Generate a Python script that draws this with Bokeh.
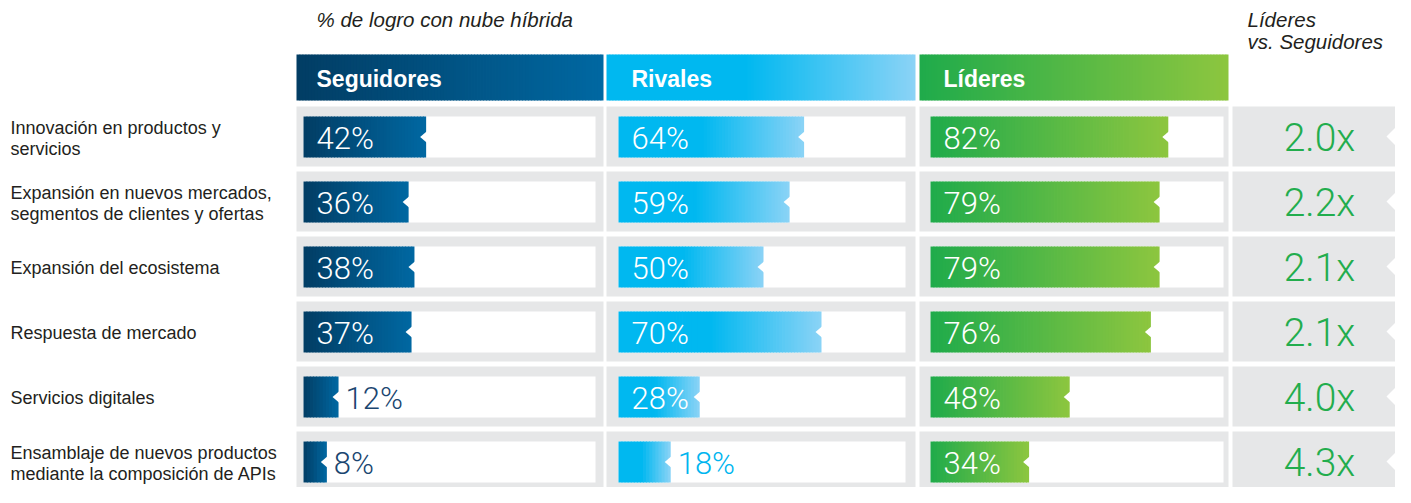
import numpy as np
from bokeh.plotting import figure
from bokeh.models import Range1d, ColumnDataSource
from bokeh.embed import file_html
from bokeh.resources import INLINE
from bokeh.core.properties import value

# ---------------- data ----------------
categories = [
    "Innovación en productos y\nservicios",
    "Expansión en nuevos mercados,\nsegmentos de clientes y ofertas",
    "Expansión del ecosistema",
    "Respuesta de mercado",
    "Servicios digitales",
    "Ensamblaje de nuevos productos\nmediante la composición de APIs",
]
seguidores = [42, 36, 38, 37, 12, 8]
rivales = [64, 59, 50, 70, 28, 18]
lideres = [82, 79, 79, 76, 48, 34]
ratio_labels = ["2.0x", "2.2x", "2.1x", "2.1x", "4.0x", "4.3x"]
series_names = ["Seguidores", "Rivales", "Líderes"]
title_text = "% de logro con nube híbrida"
ratio_title = ["Líderes", "vs. Seguidores"]

# ---------------- layout / style ----------------
W, H = 1395, 487
SANS = "Liberation Sans"
NUM = "Roboto Light"
GRAY = "#e6e7e8"
TXT = "#231f20"
GREEN_TXT = "#22ad4d"

col_left = [296, 606, 919]
col_right = [603, 915, 1228]
inner_left = [303, 618, 930]
inner_right = [595, 905, 1223]
px_per_pct = [2.92, 2.90, 2.90]
grad_stops = [
    [(0.0, "#023d64"), (1.0, "#0068a2")],
    [(0.0, "#00b8f0"), (0.45, "#00b8f0"), (1.0, "#8bd3f6")],
    [(0.0, "#1fab4b"), (1.0, "#8dc63f")],
]
outside_color = ["#1a4670", "#00b5ef", "#1fab4b"]
INSIDE_MIN = 25  # values below this get the label outside the bar

ratio_left, ratio_right, ratio_text_x = 1232, 1395, 1319
row_top0, row_pitch, row_h = 106, 65, 60
inner_off, inner_h = 10, 41
head_top, head_bot = 54, 100


def hex2rgb(h):
    h = h.lstrip("#")
    return np.array([int(h[i:i + 2], 16) for i in (0, 2, 4)], dtype=float)


def grad_color(stops, t):
    for (t0, c0), (t1, c1) in zip(stops[:-1], stops[1:]):
        if t <= t1:
            f = 0 if t1 == t0 else (t - t0) / (t1 - t0)
            c = hex2rgb(c0) * (1 - f) + hex2rgb(c1) * f
            return "#%02x%02x%02x" % tuple(int(round(v)) for v in c)
    return stops[-1][1]


p = figure(width=W, height=H, output_backend="svg", toolbar_location=None,
           x_range=Range1d(0, W), y_range=Range1d(H, 0),
           min_border=0, background_fill_color="white", border_fill_color="white")
p.axis.visible = False
p.grid.visible = False
p.outline_line_color = None

grad = dict(left=[], right=[], top=[], bottom=[], color=[])


def add_gradient(x0, x1, yt, yb, stops):
    n = max(4, int((x1 - x0) / 3))
    edges = np.linspace(x0, x1, n + 1)
    for i in range(n):
        t = (i + 0.5) / n
        grad["left"].append(edges[i])
        grad["right"].append(min(edges[i + 1] + 0.8, x1))
        grad["top"].append(yt)
        grad["bottom"].append(yb)
        grad["color"].append(grad_color(stops, t))


# panels
panels = dict(left=[], right=[], top=[], bottom=[], color=[])
rows = len(categories)
row_tops = [row_top0 + i * row_pitch for i in range(rows)]
for i in range(rows):
    rt = row_tops[i]
    for c in range(3):
        panels["left"].append(col_left[c]); panels["right"].append(col_right[c])
        panels["top"].append(rt); panels["bottom"].append(rt + row_h); panels["color"].append(GRAY)
        panels["left"].append(inner_left[c]); panels["right"].append(inner_right[c])
        panels["top"].append(rt + inner_off); panels["bottom"].append(rt + inner_off + inner_h)
        panels["color"].append("white")
    panels["left"].append(ratio_left); panels["right"].append(ratio_right)
    panels["top"].append(rt); panels["bottom"].append(rt + row_h); panels["color"].append(GRAY)

p.quad(left="left", right="right", top="top", bottom="bottom", fill_color="color",
       line_color=None, source=ColumnDataSource(panels))

# headers
for c in range(3):
    add_gradient(col_left[c], col_right[c], head_top, head_bot, grad_stops[c])

# bars
series = [seguidores, rivales, lideres]
bar_ends = [[], [], []]
for c in range(3):
    for i, v in enumerate(series[c]):
        rt = row_tops[i] + inner_off
        x1 = inner_left[c] + v * px_per_pct[c]
        bar_ends[c].append(x1)
        add_gradient(inner_left[c], x1, rt, rt + inner_h, grad_stops[c])

p.quad(left="left", right="right", top="top", bottom="bottom", fill_color="color",
       line_color=None, source=ColumnDataSource(grad))

# notches
nx, ny = [], []
for c in range(3):
    for i in range(rows):
        cy = row_tops[i] + inner_off + inner_h / 2
        e = bar_ends[c][i]
        nx.append([e + 1, e - 6, e + 1]); ny.append([cy - 6, cy, cy + 6])
for i in range(rows):
    cy = row_tops[i] + row_h / 2
    nx.append([ratio_right + 2, ratio_right - 9, ratio_right + 2]); ny.append([cy - 11, cy, cy + 11])
p.patches(nx, ny, fill_color="white", line_color=None)

# header labels
p.text(x=[inner_left[c] + 13 for c in range(3)], y=[(head_top + head_bot) / 2 + 1] * 3,
       text=series_names, text_font=value(SANS), text_font_style="bold",
       text_font_size=value("23px"), text_color="white", text_baseline="middle")

# percent labels
lx, ly, lt, lc = [], [], [], []
for c in range(3):
    for i, v in enumerate(series[c]):
        cy = row_tops[i] + inner_off + inner_h / 2 + 1
        if v >= INSIDE_MIN:
            lx.append(inner_left[c] + 13); lc.append("white")
        else:
            lx.append(bar_ends[c][i] + 7); lc.append(outside_color[c])
        ly.append(cy); lt.append(f"{v}%")
p.text(x=lx, y=ly, text=lt, text_color=lc, text_font=value(NUM),
       text_font_size=value("31px"), text_baseline="middle")

# ratio labels
p.text(x=[ratio_text_x] * rows, y=[rt + row_h / 2 + 1 for rt in row_tops],
       text=ratio_labels, text_color=GREEN_TXT, text_font=value(NUM),
       text_font_size=value("39px"), text_align="center", text_baseline="middle")

# category labels
cx, cyy, ct = [], [], []
for i, cat in enumerate(categories):
    lines = cat.split("\n")
    n = len(lines)
    mid = row_tops[i] + row_h / 2 + (2 if n > 1 else 1)
    for k, ln in enumerate(lines):
        cx.append(10); cyy.append(mid + (k - (n - 1) / 2) * 21); ct.append(ln)
p.text(x=cx, y=cyy, text=ct, text_color=TXT, text_font=value(SANS),
       text_font_size=value("18px"), text_baseline="middle")

# titles
p.text(x=[316], y=[19], text=[title_text], text_color=TXT, text_font=value(SANS),
       text_font_style="italic", text_font_size=value("20.5px"), text_baseline="middle")
p.text(x=[1247, 1247], y=[19, 41], text=ratio_title, text_color=TXT, text_font=value(SANS),
       text_font_style="italic", text_font_size=value("20.5px"), text_baseline="middle")

open("out.html", "w").write(file_html(p, INLINE))
